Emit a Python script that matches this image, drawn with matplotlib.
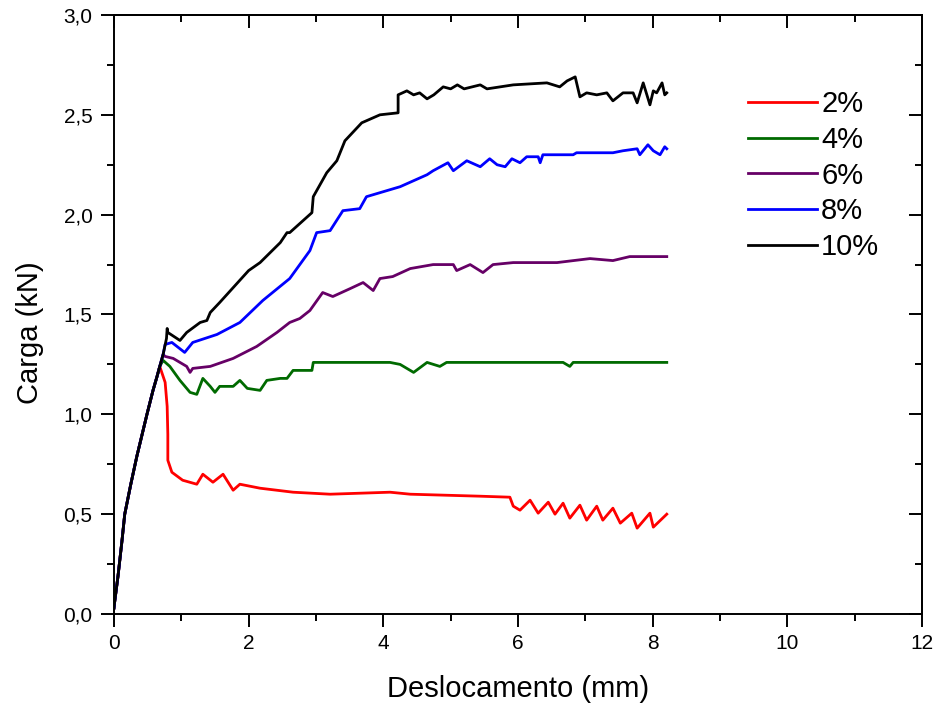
import matplotlib
matplotlib.use("Agg")
import matplotlib.pyplot as plt
from matplotlib.ticker import MultipleLocator, FuncFormatter

plt.rcParams['font.family'] = ['Liberation Sans', 'DejaVu Sans']

# common elastic rise
rise_x = [0.0, 0.01, 0.06, 0.12, 0.16, 0.25, 0.34, 0.49, 0.58, 0.64, 0.68]
rise_y = [0.03, 0.06, 0.19, 0.37, 0.50, 0.65, 0.79, 1.00, 1.12, 1.19, 1.24]

x_2 = rise_x + [0.71, 0.76, 0.79, 0.80, 0.80, 0.86, 1.02, 1.23, 1.32, 1.47, 1.62,
                1.77, 1.87, 2.17, 2.66, 3.21, 4.10, 4.40, 5.44, 5.88, 5.93, 6.03,
                6.18, 6.30, 6.45, 6.55, 6.67, 6.77, 6.92, 7.02, 7.17, 7.26, 7.41,
                7.52, 7.69, 7.77, 7.96, 8.01, 8.21]
y_2 = rise_y + [1.21, 1.16, 1.04, 0.90, 0.77, 0.71, 0.67, 0.65, 0.70, 0.66, 0.70,
                0.62, 0.65, 0.63, 0.61, 0.60, 0.61, 0.60, 0.59, 0.585, 0.54, 0.52,
                0.57, 0.505, 0.56, 0.50, 0.555, 0.48, 0.545, 0.47, 0.54, 0.47, 0.53,
                0.455, 0.505, 0.43, 0.505, 0.435, 0.50]

x_4 = rise_x + [0.73, 0.83, 0.98, 1.13, 1.23, 1.32, 1.43, 1.50, 1.57, 1.77, 1.87,
                1.98, 2.17, 2.27, 2.47, 2.57, 2.66, 2.76, 2.94, 2.96, 3.70, 4.10,
                4.25, 4.45, 4.65, 4.84, 4.94, 6.67, 6.77, 6.82, 8.21]
y_4 = rise_y + [1.27, 1.24, 1.17, 1.11, 1.10, 1.18, 1.14, 1.11, 1.14, 1.14, 1.17,
                1.13, 1.12, 1.17, 1.18, 1.18, 1.22, 1.22, 1.22, 1.26, 1.26, 1.26,
                1.25, 1.21, 1.26, 1.24, 1.26, 1.26, 1.24, 1.26, 1.26]

x_6 = rise_x + [0.73, 0.76, 0.88, 1.08, 1.13, 1.17, 1.43, 1.77, 2.12, 2.42, 2.61,
                2.76, 2.91, 3.10, 3.25, 3.51, 3.70, 3.85, 3.95, 4.14, 4.40, 4.74,
                5.04, 5.09, 5.29, 5.48, 5.63, 5.93, 6.58, 7.07, 7.41, 7.66, 8.21]
y_6 = rise_y + [1.30, 1.29, 1.28, 1.24, 1.21, 1.23, 1.24, 1.28, 1.34, 1.41, 1.46,
                1.48, 1.52, 1.61, 1.59, 1.63, 1.66, 1.62, 1.68, 1.69, 1.73, 1.75,
                1.75, 1.72, 1.75, 1.71, 1.75, 1.76, 1.76, 1.78, 1.77, 1.79, 1.79]

x_8 = rise_x + [0.73, 0.76, 0.86, 1.05, 1.17, 1.53, 1.87, 2.21, 2.61, 2.91, 3.01,
                3.21, 3.40, 3.65, 3.75, 4.25, 4.65, 4.74, 4.96, 5.04, 5.24, 5.44,
                5.58, 5.69, 5.81, 5.91, 6.03, 6.13, 6.30, 6.33, 6.37, 6.82, 6.87,
                7.41, 7.56, 7.77, 7.81, 7.93, 8.01, 8.11, 8.18, 8.21]
y_8 = rise_y + [1.30, 1.35, 1.36, 1.31, 1.36, 1.40, 1.46, 1.57, 1.68, 1.82, 1.91,
                1.92, 2.02, 2.03, 2.09, 2.14, 2.20, 2.22, 2.26, 2.22, 2.27, 2.24,
                2.28, 2.25, 2.24, 2.28, 2.26, 2.29, 2.29, 2.26, 2.30, 2.30, 2.31,
                2.31, 2.32, 2.33, 2.30, 2.35, 2.32, 2.30, 2.34, 2.33]

x_10 = rise_x + [0.73, 0.78, 0.79, 0.80, 0.98, 1.08, 1.28, 1.38, 1.43, 1.57, 2.00,
                 2.17, 2.47, 2.57, 2.61, 2.94, 2.96, 3.16, 3.31, 3.43, 3.68, 3.95,
                 4.22, 4.22, 4.35, 4.45, 4.54, 4.65, 4.75, 4.89, 5.00, 5.10, 5.20,
                 5.44, 5.54, 5.93, 6.43, 6.62, 6.73, 6.85, 6.92, 7.02, 7.17, 7.32,
                 7.41, 7.56, 7.71, 7.77, 7.86, 7.96, 8.01, 8.06, 8.14, 8.18, 8.21]
y_10 = rise_y + [1.30, 1.38, 1.43, 1.41, 1.37, 1.41, 1.46, 1.47, 1.51, 1.56, 1.72,
                 1.76, 1.86, 1.91, 1.91, 2.01, 2.09, 2.21, 2.27, 2.37, 2.46, 2.50,
                 2.51, 2.60, 2.62, 2.60, 2.61, 2.58, 2.60, 2.64, 2.63, 2.65, 2.63,
                 2.65, 2.63, 2.65, 2.66, 2.64, 2.67, 2.69, 2.59, 2.61, 2.60, 2.61,
                 2.57, 2.61, 2.61, 2.56, 2.66, 2.55, 2.62, 2.61, 2.66, 2.60, 2.61]

labels = ["2%", "4%", "6%", "8%", "10%"]
colors = ["#ff0000", "#006a00", "#660066", "#0000ff", "#000000"]
series = [(x_2, y_2), (x_4, y_4), (x_6, y_6), (x_8, y_8), (x_10, y_10)]

fig = plt.figure(figsize=(9.38, 7.10), dpi=100)
ax = fig.add_axes([0.1215, 0.1352, 0.8614, 0.8437])

for (xs, ys), lab, col in zip(series, labels, colors):
    ax.plot(xs, ys, color=col, lw=2.0, label=lab)

ax.set_xlim(0, 12)
ax.set_ylim(0, 3.0)
ax.xaxis.set_major_locator(MultipleLocator(2))
ax.xaxis.set_minor_locator(MultipleLocator(1))
ax.yaxis.set_major_locator(MultipleLocator(0.5))
ax.yaxis.set_minor_locator(MultipleLocator(0.25))
ax.yaxis.set_major_formatter(FuncFormatter(lambda v, p: ("%.1f" % v).replace(".", ",")))
ax.xaxis.set_major_formatter(FuncFormatter(lambda v, p: "%d" % v))

for s in ax.spines.values():
    s.set_linewidth(1.4)
ax.tick_params(which='major', direction='out', length=9.5, width=1.4,
               labelsize=15)
ax.tick_params(which='minor', direction='out', length=5, width=1.4)
ax.tick_params(axis='x', which='major', pad=5)
ax.tick_params(axis='y', which='major', pad=6)

top = ax.secondary_xaxis('top')
top.xaxis.set_major_locator(MultipleLocator(2))
top.xaxis.set_minor_locator(MultipleLocator(1))
top.tick_params(which='major', direction='in', length=9.5, width=1.4, labeltop=False)
top.tick_params(which='minor', direction='in', length=5, width=1.4)
top.spines['top'].set_linewidth(1.4)

right = ax.secondary_yaxis('right')
right.yaxis.set_major_locator(MultipleLocator(0.5))
right.yaxis.set_minor_locator(MultipleLocator(0.25))
right.tick_params(which='major', direction='in', length=9.5, width=1.4, labelright=False)
right.tick_params(which='minor', direction='in', length=5, width=1.4)
right.spines['right'].set_linewidth(1.4)

ax.set_xlabel("Deslocamento (mm)", fontsize=21, labelpad=16)
ax.set_ylabel("Carga (kN)", fontsize=21)
ax.yaxis.set_label_coords(-0.087, 0.469)

ax.legend(loc='upper left', bbox_to_anchor=(0.785, 0.875), frameon=False,
          fontsize=21, handlelength=2.35, handletextpad=0.15, labelspacing=0.27,
          borderpad=0, borderaxespad=0)

fig.savefig("out.png", dpi=100)
